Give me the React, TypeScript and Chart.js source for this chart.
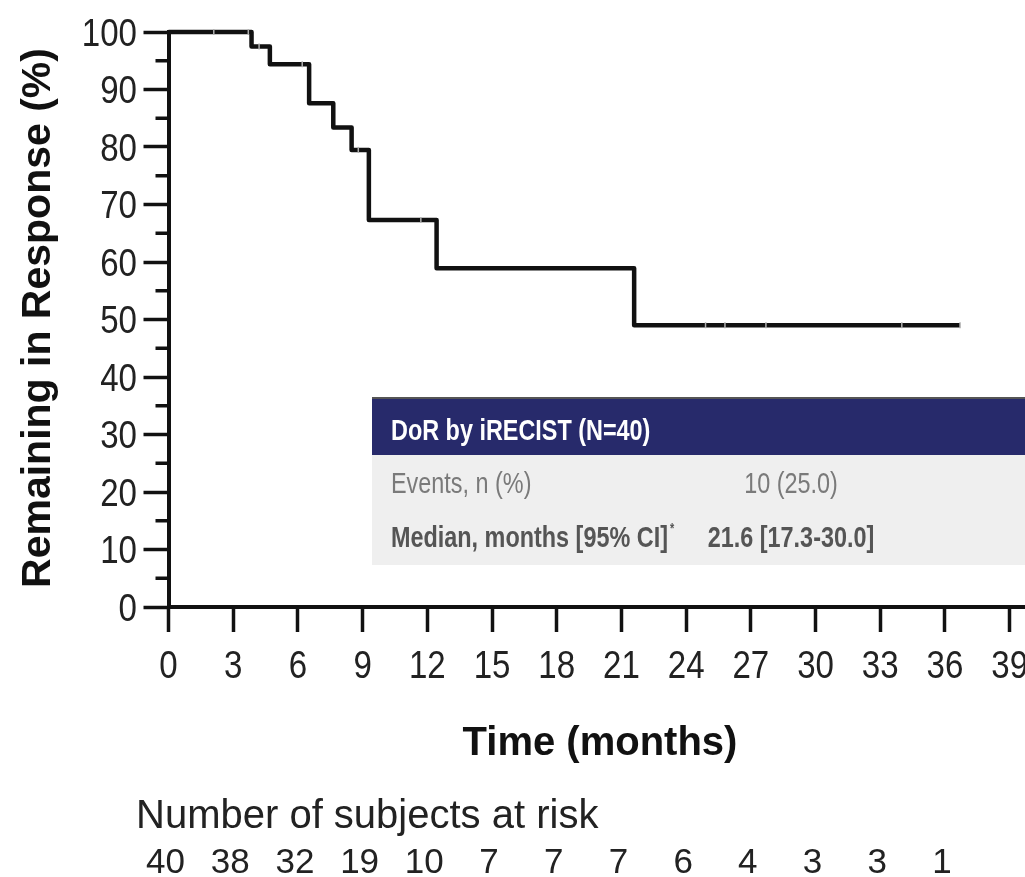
import React, { useEffect, useRef } from "react";
import { Chart, registerables } from "chart.js";

Chart.register(...registerables);

// Kaplan-Meier step points (months, % remaining in response)
const kmMonths = [0, 3.85, 4.7, 6.52, 7.64, 8.49, 9.29, 12.43, 21.59, 36.7];
const kmPercent = [100, 97.5, 94.4, 87.6, 83.4, 79.5, 67.3, 58.9, 49.0, 49.0];

// Censored observations
const censorMonths = [2.1, 3.7, 4.2, 6.2, 8.8, 11.7, 24.9, 25.8, 27.7, 34.0, 36.7];
const censorPercent = [100, 100, 97.5, 94.4, 79.5, 67.3, 49, 49, 49, 49, 49];

// Number at risk at each 3-month tick
const riskMonths = [0, 3, 6, 9, 12, 15, 18, 21, 24, 27, 30, 33, 36];
const riskCounts = [40, 38, 32, 19, 10, 7, 7, 7, 6, 4, 3, 3, 1];

const minorYTicks = [5, 15, 25, 35, 45, 55, 65, 75, 85, 95];

const tableHeader = "DoR by iRECIST (N=40)";
const tableRowLabels = ["Events, n (%)", "Median, months [95% CI]"];
const tableRowValues = ["10 (25.0)", "21.6 [17.3-30.0]"];

const FONT = "'Liberation Sans', Arial, Helvetica, sans-serif";

function drawScaledText(
  ctx: CanvasRenderingContext2D,
  txt: string,
  x: number,
  y: number,
  font: string,
  color: string,
  align: CanvasTextAlign,
  sx: number
) {
  ctx.save();
  ctx.translate(x, y);
  ctx.scale(sx, 1);
  ctx.font = font;
  ctx.fillStyle = color;
  ctx.textAlign = align;
  ctx.textBaseline = "alphabetic";
  ctx.fillText(txt, 0, 0);
  const w = ctx.measureText(txt).width * sx;
  ctx.restore();
  return w;
}

const overlayPlugin = {
  id: "overlay",
  afterDraw(chart: any) {
    const ctx = chart.ctx as CanvasRenderingContext2D;
    const xs = chart.scales.x;
    const ys = chart.scales.y;
    ctx.save();

    // minor y ticks
    ctx.strokeStyle = "#111";
    ctx.lineWidth = 3.5;
    const axisX = ys.right;
    minorYTicks.forEach((v) => {
      const py = ys.getPixelForValue(v);
      ctx.beginPath();
      ctx.moveTo(axisX - 13, py);
      ctx.lineTo(axisX, py);
      ctx.stroke();
    });

    // tick labels (slightly condensed like the reference)
    const tickFont = `38px ${FONT}`;
    ys.ticks.forEach((t: any) => {
      const py = ys.getPixelForValue(t.value);
      drawScaledText(ctx, String(t.value), 137, py + 13.5, tickFont, "#222", "right", 0.87);
    });
    xs.ticks.forEach((t: any) => {
      const px = xs.getPixelForValue(t.value);
      drawScaledText(ctx, String(t.value), px, 678, tickFont, "#222", "center", 0.87);
    });

    // y-axis title
    ctx.fillStyle = "#111";
    ctx.save();
    ctx.translate(50, 318);
    ctx.rotate(-Math.PI / 2);
    ctx.font = `bold 41px ${FONT}`;
    ctx.textAlign = "center";
    ctx.textBaseline = "alphabetic";
    ctx.fillText("Remaining in Response (%)", 0, 0);
    ctx.restore();

    // x-axis title
    ctx.font = `bold 40px ${FONT}`;
    ctx.textAlign = "center";
    ctx.textBaseline = "alphabetic";
    ctx.fillText("Time (months)", 600, 755);

    // at-risk
    ctx.fillStyle = "#222";
    ctx.font = `40px ${FONT}`;
    ctx.textAlign = "left";
    ctx.fillText("Number of subjects at risk", 136, 828);
    ctx.font = `35px ${FONT}`;
    ctx.textAlign = "center";
    riskMonths.forEach((m, i) => {
      ctx.fillText(String(riskCounts[i]), xs.getPixelForValue(m) - 3, 873);
    });

    // table
    const left = 372;
    const right = 1070;
    const top = 399;
    const headBottom = 455;
    const bottom = 565;
    ctx.fillStyle = "#efefef";
    ctx.fillRect(left, headBottom, right - left, bottom - headBottom);
    ctx.fillStyle = "#272a6b";
    ctx.fillRect(left, top, right - left, headBottom - top);
    ctx.fillStyle = "#555";
    ctx.fillRect(left, top - 2, right - left, 2);

    const sx = 0.78;
    drawScaledText(ctx, tableHeader, 391, 440, `bold 30px ${FONT}`, "#ffffff", "left", sx);
    drawScaledText(ctx, tableRowLabels[0], 391, 493, `30px ${FONT}`, "#7a7a7a", "left", sx);
    drawScaledText(ctx, tableRowValues[0], 791, 493, `30px ${FONT}`, "#7a7a7a", "center", sx);
    const w = drawScaledText(ctx, tableRowLabels[1], 391, 547, `bold 30px ${FONT}`, "#555", "left", sx);
    drawScaledText(ctx, "*", 391 + w + 2, 533, `bold 14px ${FONT}`, "#555", "left", sx);
    drawScaledText(ctx, tableRowValues[1], 791, 547, `bold 30px ${FONT}`, "#555", "center", sx);

    ctx.restore();
  },
};

export default function App() {
  const ref = useRef<HTMLCanvasElement | null>(null);

  useEffect(() => {
    if (!ref.current) return;
    const chart = new Chart(ref.current, {
      type: "line",
      data: {
        datasets: [
          {
            label: "Censored",
            data: censorMonths.map((m, i) => ({ x: m, y: censorPercent[i] })),
            showLine: false,
            pointStyle: "line",
            rotation: 90,
            pointRadius: 3,
            pointBorderColor: "#b0b0b0",
            pointBorderWidth: 1.5,
            borderColor: "#b0b0b0",
            clip: false as any,
          },
          {
            label: "DoR",
            data: kmMonths.map((m, i) => ({ x: m, y: kmPercent[i] })),
            stepped: "before",
            borderColor: "#111",
            borderWidth: 4.5,
            borderJoinStyle: "round",
            pointRadius: 0,
            fill: false,
            clip: false as any,
          },
        ],
      },
      options: {
        responsive: false,
        animation: false,
        layout: { padding: { left: 0, right: 28, top: 32, bottom: 0 } },
        plugins: { legend: { display: false }, tooltip: { enabled: false } },
        scales: {
          x: {
            type: "linear",
            min: 0,
            max: 40.5,
            afterFit: (s: any) => {
              s.height = 270;
            },
            ticks: {
              stepSize: 3,
              includeBounds: false,
              autoSkip: false,
              maxRotation: 0,
              padding: 11,
              color: "transparent",
              font: { family: FONT, size: 36 },
            },
            grid: {
              drawOnChartArea: false,
              drawTicks: true,
              tickLength: 25,
              tickWidth: 3.5,
              tickColor: "#111",
            },
            border: { display: true, color: "#111", width: 4 },
          },
          y: {
            min: 0,
            max: 100,
            afterFit: (s: any) => {
              s.width = 168.5;
            },
            ticks: {
              stepSize: 10,
              padding: 6,
              color: "transparent",
              font: { family: FONT, size: 36 },
            },
            grid: {
              drawOnChartArea: false,
              drawTicks: true,
              tickLength: 25,
              tickWidth: 3.5,
              tickColor: "#111",
            },
            border: { display: true, color: "#111", width: 4 },
          },
        },
      },
      plugins: [overlayPlugin],
    });
    return () => chart.destroy();
  }, []);

  return (
    <div
      style={{
        position: "fixed",
        left: 0,
        top: 0,
        width: 1025,
        height: 877,
        overflow: "hidden",
        background: "#fff",
      }}
    >
      <canvas ref={ref} width={1070} height={877} style={{ width: 1070, height: 877, display: "block" }} />
    </div>
  );
}
